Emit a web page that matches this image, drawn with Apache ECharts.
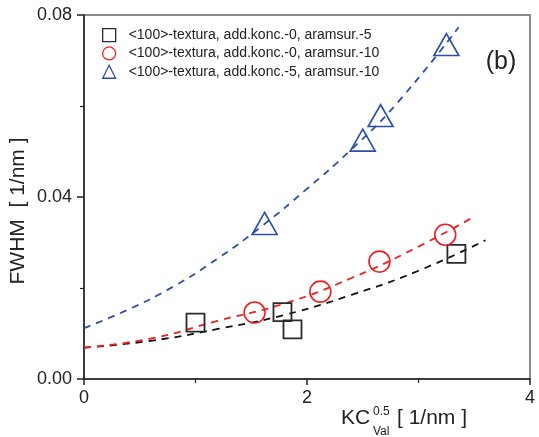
<!DOCTYPE html>
<html>
<head>
<meta charset="utf-8">
<script src="https://cdn.jsdelivr.net/npm/echarts@6/dist/echarts.min.js"></script>
<style>
html,body{margin:0;padding:0;background:#fff;}
#chart{width:539px;height:437px;}
</style>
</head>
<body>
<div id="chart"></div>
<script>
// ---- data ----
const legendNames = [
  '<100>-textura, add.konc.-0, aramsur.-5',
  '<100>-textura, add.konc.-0, aramsur.-10',
  '<100>-textura, add.konc.-5, aramsur.-10'
];
const squareX = [1.00, 1.78, 1.87, 3.34];
const squareY = [0.0124, 0.0147, 0.0109, 0.0275];
const circleX = [1.53, 2.12, 2.65, 3.24];
const circleY = [0.0146, 0.0192, 0.0258, 0.0317];
const triX = [1.62, 2.50, 2.66, 3.25];
const triY = [0.0342, 0.0525, 0.0579, 0.0735];

const fitBlackX = [0, 0.6, 1.2, 1.8, 2.4, 3.0, 3.6];
const fitBlackY = [0.0069, 0.0084, 0.0110, 0.0141, 0.0185, 0.0238, 0.0305];
const fitRedX = [0, 0.6, 1.2, 1.8, 2.4, 3.0, 3.5];
const fitRedY = [0.0069, 0.0089, 0.0128, 0.0166, 0.0222, 0.0291, 0.0357];
const fitBlueX = [0, 0.4, 0.8, 1.2, 1.6, 2.0, 2.4, 2.8, 3.36];
const fitBlueY = [0.0112, 0.0153, 0.0203, 0.0265, 0.0337, 0.0418, 0.0505, 0.0604, 0.0773];

const yTickLabels = ['0.00', '0.02', '0.04', '0.06', '0.08'];

const FONT = '"Liberation Sans", Arial, Helvetica, sans-serif';
const zip = (xs, ys) => xs.map((x, i) => [x, ys[i]]);

const cBlack = '#2a2a2a', cRed = '#ee2024', cBlue = '#2e4ea6';

const chart = echarts.init(document.getElementById('chart'), null, {renderer: 'canvas'});
const axisCommon = {
  axisLine: {show: true, onZero: false, lineStyle: {color: '#222', width: 1.5}},
  axisTick: {show: true, inside: false, length: 6, lineStyle: {color: '#222', width: 1.5}},
  minorTick: {show: true, splitNumber: 2, length: 4, lineStyle: {color: '#222', width: 1.2}},
  splitLine: {show: false},
  axisLabel: {color: '#222', fontSize: 18, fontFamily: FONT}
};
chart.setOption({
  animation: false,
  backgroundColor: '#fff',
  grid: {left: 84, right: 9, top: 15, bottom: 58, show: true, borderColor: '#666', borderWidth: 1.5, backgroundColor: 'transparent'},
  xAxis: Object.assign({}, axisCommon, {
    type: 'value', min: 0, max: 4, interval: 2,
    axisLabel: Object.assign({}, axisCommon.axisLabel, {margin: 10})
  }),
  yAxis: Object.assign({}, axisCommon, {
    type: 'value', min: 0, max: 0.08, interval: 0.04,
    axisTick: Object.assign({}, axisCommon.axisTick, {length: 7}),
    axisLabel: Object.assign({}, axisCommon.axisLabel, {margin: 12,
      formatter: v => yTickLabels[Math.round(v / 0.02)]})
  }),
  legend: {
    orient: 'vertical', left: 97, top: 23, itemWidth: 13, itemHeight: 13, itemGap: 4,
    textStyle: {fontSize: 14, fontFamily: FONT, color: '#222', padding: [0, 0, 0, 8]},
    itemStyle: {borderWidth: 1.3},
    data: [
      {name: legendNames[0], icon: 'rect'},
      {name: legendNames[1], icon: 'circle'},
      {name: legendNames[2], icon: 'triangle'}
    ]
  },
  graphic: [
    {type: 'text', x: 18, y: 211, rotation: Math.PI / 2,
     style: {text: 'FWHM  [ 1/nm ]', font: '21px ' + FONT, fill: '#222', textAlign: 'center', textVerticalAlign: 'middle'}},
    {type: 'text', x: 341, y: 418,
     style: {text: 'KC', font: '21px ' + FONT, fill: '#222', textAlign: 'left', textVerticalAlign: 'middle'}},
    {type: 'text', x: 373, y: 412,
     style: {text: '0.5', font: '12px ' + FONT, fill: '#222', textAlign: 'left', textVerticalAlign: 'middle'}},
    {type: 'text', x: 373, y: 432,
     style: {text: 'Val', font: '12px ' + FONT, fill: '#222', textAlign: 'left', textVerticalAlign: 'middle'}},
    {type: 'text', x: 397, y: 418,
     style: {text: '[ 1/nm ]', font: '21px ' + FONT, fill: '#222', textAlign: 'left', textVerticalAlign: 'middle'}},
    {type: 'text', x: 501, y: 62,
     style: {text: '(b)', font: '25px ' + FONT, fill: '#222', textAlign: 'center', textVerticalAlign: 'middle'}}
  ],
  series: [
    {name: 'fit1', type: 'line', data: zip(fitBlackX, fitBlackY), smooth: true, showSymbol: false, silent: true,
     lineStyle: {color: '#111', width: 1.8, type: [7, 6]}, z: 2},
    {name: 'fit2', type: 'line', data: zip(fitRedX, fitRedY), smooth: true, showSymbol: false, silent: true,
     lineStyle: {color: cRed, width: 1.8, type: [7, 6]}, z: 2},
    {name: 'fit3', type: 'line', data: zip(fitBlueX, fitBlueY), smooth: true, showSymbol: false, silent: true,
     lineStyle: {color: cBlue, width: 1.8, type: [7, 6]}, z: 2},
    {name: legendNames[0], type: 'scatter', data: zip(squareX, squareY), symbol: 'rect', symbolSize: 18,
     itemStyle: {color: 'rgba(0,0,0,0)', borderColor: cBlack, borderWidth: 1.8, opacity: 1}, z: 3},
    {name: legendNames[1], type: 'scatter', data: zip(circleX, circleY), symbol: 'circle', symbolSize: 21,
     itemStyle: {color: 'rgba(0,0,0,0)', borderColor: cRed, borderWidth: 1.6, opacity: 1}, z: 3},
    {name: legendNames[2], type: 'scatter', data: zip(triX, triY), symbol: 'triangle', symbolSize: [25, 22],
     itemStyle: {color: 'rgba(0,0,0,0)', borderColor: cBlue, borderWidth: 1.6, opacity: 1}, z: 3}
  ]
});
</script>
</body>
</html>
